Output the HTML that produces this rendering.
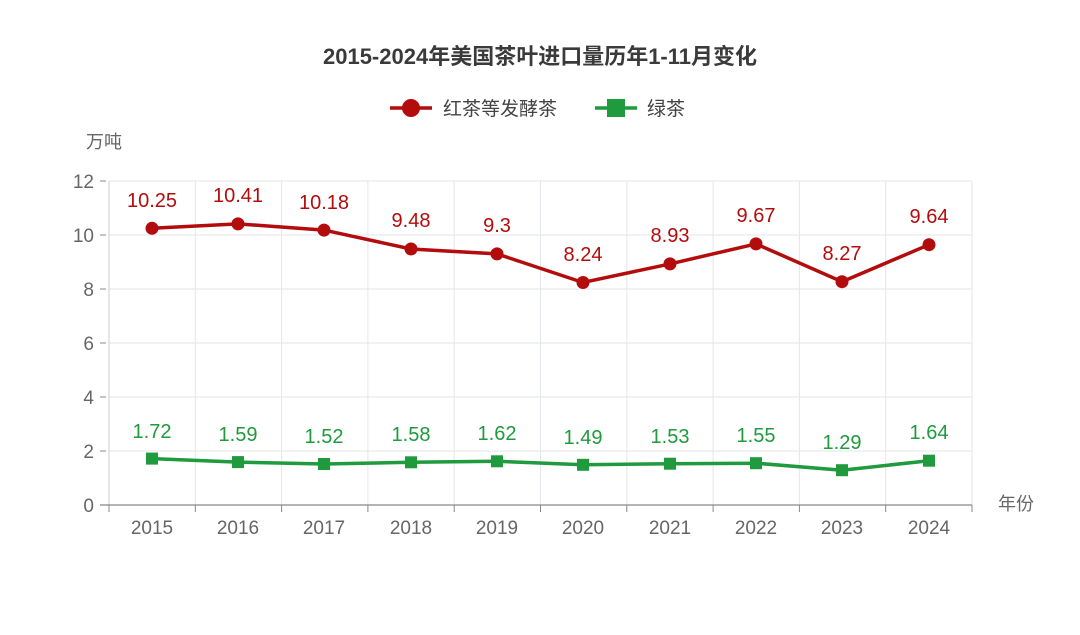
<!DOCTYPE html>
<html><head><meta charset="utf-8"><style>
html,body{margin:0;padding:0;background:#fff}
svg text{font-family:"Liberation Sans","Noto Sans CJK SC",sans-serif}
</style></head><body>
<svg width="1080" height="630" xmlns="http://www.w3.org/2000/svg">
<rect width="1080" height="630" fill="#fff"/>
<text x="540" y="64" text-anchor="middle" font-size="22" font-weight="bold" fill="#3a3a3a">2015-2024年美国茶叶进口量历年1-11月变化</text>
<g>
<line x1="390" y1="108" x2="432" y2="108" stroke="#b30c0c" stroke-width="3.5"/>
<circle cx="411" cy="108" r="9" fill="#b30c0c"/>
<text x="443" y="115" font-size="19" fill="#444">红茶等发酵茶</text>
<line x1="595" y1="108" x2="637" y2="108" stroke="#1f9a3c" stroke-width="3.5"/>
<rect x="607" y="99" width="18" height="18" fill="#1f9a3c"/>
<text x="647" y="115" font-size="19" fill="#444">绿茶</text>
</g>
<text x="86" y="148" font-size="18" fill="#666">万吨</text>
<text x="998" y="510" font-size="18" fill="#666">年份</text>
<g stroke="#e3e6ea" stroke-width="1">
<line x1="109" y1="181" x2="972" y2="181"/>
<line x1="109" y1="235" x2="972" y2="235"/>
<line x1="109" y1="289" x2="972" y2="289"/>
<line x1="109" y1="343" x2="972" y2="343"/>
<line x1="109" y1="397" x2="972" y2="397"/>
<line x1="109" y1="451" x2="972" y2="451"/>
<line x1="195.3" y1="181" x2="195.3" y2="505"/>
<line x1="281.6" y1="181" x2="281.6" y2="505"/>
<line x1="367.9" y1="181" x2="367.9" y2="505"/>
<line x1="454.2" y1="181" x2="454.2" y2="505"/>
<line x1="540.5" y1="181" x2="540.5" y2="505"/>
<line x1="626.8" y1="181" x2="626.8" y2="505"/>
<line x1="713.1" y1="181" x2="713.1" y2="505"/>
<line x1="799.4" y1="181" x2="799.4" y2="505"/>
<line x1="885.7" y1="181" x2="885.7" y2="505"/>
<line x1="972" y1="181" x2="972" y2="505"/>
</g>
<line x1="109" y1="181" x2="109" y2="505" stroke="#ccc"/>
<line x1="100" y1="505" x2="972" y2="505" stroke="#888" stroke-width="1.2"/>
<g stroke="#888">
<line x1="100" y1="181" x2="106" y2="181"/><line x1="100" y1="235" x2="106" y2="235"/>
<line x1="100" y1="289" x2="106" y2="289"/><line x1="100" y1="343" x2="106" y2="343"/>
<line x1="100" y1="397" x2="106" y2="397"/><line x1="100" y1="451" x2="106" y2="451"/>
<line x1="109" y1="505" x2="109" y2="512"/><line x1="195.3" y1="505" x2="195.3" y2="512"/>
<line x1="281.6" y1="505" x2="281.6" y2="512"/><line x1="367.9" y1="505" x2="367.9" y2="512"/>
<line x1="454.2" y1="505" x2="454.2" y2="512"/><line x1="540.5" y1="505" x2="540.5" y2="512"/>
<line x1="626.8" y1="505" x2="626.8" y2="512"/><line x1="713.1" y1="505" x2="713.1" y2="512"/>
<line x1="799.4" y1="505" x2="799.4" y2="512"/><line x1="885.7" y1="505" x2="885.7" y2="512"/>
<line x1="972" y1="505" x2="972" y2="512"/>
</g>
<g font-size="19" fill="#666" text-anchor="end">
<text x="94" y="188">12</text><text x="94" y="242">10</text><text x="94" y="296">8</text>
<text x="94" y="350">6</text><text x="94" y="404">4</text><text x="94" y="458">2</text><text x="94" y="512">0</text>
</g>
<g font-size="19" fill="#666" text-anchor="middle">
<text x="152" y="534">2015</text><text x="238" y="534">2016</text><text x="324" y="534">2017</text>
<text x="411" y="534">2018</text><text x="497" y="534">2019</text><text x="583" y="534">2020</text>
<text x="670" y="534">2021</text><text x="756" y="534">2022</text><text x="842" y="534">2023</text>
<text x="929" y="534">2024</text>
</g>
<polyline fill="none" stroke="#b30c0c" stroke-width="3.5" points="152,228.3 238,223.9 324,230.1 411,249.0 497,253.9 583,282.5 670,263.9 756,243.9 842,281.7 929,244.7"/>
<g fill="#b30c0c">
<circle cx="152" cy="228.3" r="6.5"/><circle cx="238" cy="223.9" r="6.5"/><circle cx="324" cy="230.1" r="6.5"/>
<circle cx="411" cy="249.0" r="6.5"/><circle cx="497" cy="253.9" r="6.5"/><circle cx="583" cy="282.5" r="6.5"/>
<circle cx="670" cy="263.9" r="6.5"/><circle cx="756" cy="243.9" r="6.5"/><circle cx="842" cy="281.7" r="6.5"/>
<circle cx="929" cy="244.7" r="6.5"/>
</g>
<g font-size="20" fill="#b30c0c" text-anchor="middle">
<text x="152" y="207">10.25</text><text x="238" y="202">10.41</text><text x="324" y="209">10.18</text>
<text x="411" y="227">9.48</text><text x="497" y="232">9.3</text><text x="583" y="261">8.24</text>
<text x="670" y="242">8.93</text><text x="756" y="222">9.67</text><text x="842" y="260">8.27</text>
<text x="929" y="223">9.64</text>
</g>
<polyline fill="none" stroke="#1f9a3c" stroke-width="3.5" points="152,458.6 238,462.1 324,464.0 411,462.3 497,461.3 583,464.8 670,463.7 756,463.2 842,470.2 929,460.7"/>
<g fill="#1f9a3c">
<rect x="146" y="452.6" width="12" height="12"/><rect x="232" y="456.1" width="12" height="12"/>
<rect x="318" y="458" width="12" height="12"/><rect x="405" y="456.3" width="12" height="12"/>
<rect x="491" y="455.3" width="12" height="12"/><rect x="577" y="458.8" width="12" height="12"/>
<rect x="664" y="457.7" width="12" height="12"/><rect x="750" y="457.2" width="12" height="12"/>
<rect x="836" y="464.2" width="12" height="12"/><rect x="923" y="454.7" width="12" height="12"/>
</g>
<g font-size="20" fill="#1f9a3c" text-anchor="middle">
<text x="152" y="438">1.72</text><text x="238" y="441">1.59</text><text x="324" y="443">1.52</text>
<text x="411" y="441">1.58</text><text x="497" y="440">1.62</text><text x="583" y="444">1.49</text>
<text x="670" y="443">1.53</text><text x="756" y="442">1.55</text><text x="842" y="449">1.29</text>
<text x="929" y="439">1.64</text>
</g>
</svg>
</body></html>
